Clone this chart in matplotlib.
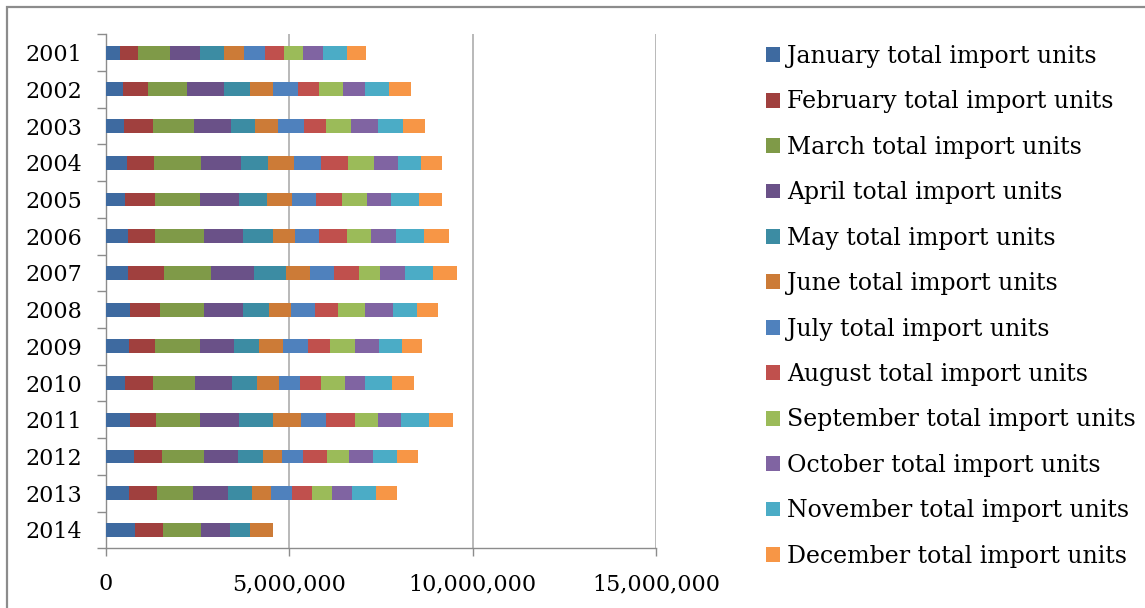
import matplotlib
matplotlib.use("Agg")
import matplotlib.pyplot as plt
from matplotlib.patches import Rectangle, Patch
from matplotlib.ticker import FuncFormatter, FixedLocator
import numpy as np

plt.rcParams['font.family'] = ['DejaVu Serif']

years = ["2001", "2002", "2003", "2004", "2005", "2006", "2007",
         "2008", "2009", "2010", "2011", "2012", "2013", "2014"]

months = ["January", "February", "March", "April", "May", "June",
          "July", "August", "September", "October", "November", "December"]

jan = [390000, 460000, 490000, 560000, 520000, 590000, 590000, 660000, 630000, 520000, 660000, 770000, 630000, 790000]
feb = [470000, 680000, 780000, 750000, 820000, 750000, 990000, 810000, 710000, 760000, 710000, 750000, 750000, 760000]
mar = [890000, 1060000, 1120000, 1280000, 1230000, 1330000, 1280000, 1190000, 1230000, 1160000, 1190000, 1160000, 990000, 1050000]
apr = [810000, 1020000, 1030000, 1100000, 1060000, 1060000, 1170000, 1070000, 920000, 990000, 1060000, 920000, 950000, 790000]
may = [650000, 720000, 650000, 720000, 750000, 830000, 890000, 720000, 680000, 680000, 930000, 690000, 660000, 550000]
jun = [540000, 610000, 610000, 710000, 680000, 600000, 650000, 600000, 650000, 610000, 770000, 500000, 510000, 610000]
jul = [590000, 680000, 710000, 750000, 660000, 660000, 650000, 660000, 680000, 580000, 690000, 580000, 570000, 0]
aug = [510000, 570000, 620000, 720000, 710000, 750000, 680000, 610000, 610000, 570000, 780000, 660000, 560000, 0]
sep = [510000, 660000, 680000, 710000, 680000, 650000, 580000, 750000, 680000, 660000, 640000, 610000, 540000, 0]
oct_ = [550000, 610000, 720000, 650000, 650000, 680000, 670000, 760000, 650000, 540000, 620000, 650000, 550000, 0]
nov = [650000, 650000, 680000, 650000, 780000, 780000, 760000, 650000, 620000, 730000, 750000, 650000, 650000, 0]
dec = [540000, 610000, 600000, 550000, 610000, 680000, 670000, 570000, 570000, 600000, 650000, 570000, 570000, 0]

series = [jan, feb, mar, apr, may, jun, jul, aug, sep, oct_, nov, dec]

colors = ["#3E6AA0", "#A0403E", "#7F9A48", "#6A5188", "#3C8CA3", "#CC7B37",
          "#4F81BD", "#C0504D", "#9BBB59", "#8064A2", "#4BACC6", "#F79646"]

W, H = 1145, 608
fig = plt.figure(figsize=(W / 100, H / 100), dpi=100)
fig.patch.set_facecolor("white")

# outer chart border (only top/left visible in the reference)
fig.patches.append(Rectangle((7 / W, -0.2), 1.5, 1 - 7 / H + 0.2, transform=fig.transFigure,
                             fill=False, edgecolor="#8C8C8C", linewidth=1.6, clip_on=False))

ax = fig.add_axes([106 / W, 1 - 548.3 / H, (656 - 106) / W, (548.3 - 34.3) / H])

y = np.arange(len(years))
left = np.zeros(len(years))
for vals, c, m in zip(series, colors, months):
    v = np.array(vals, dtype=float)
    ax.barh(y, v, left=left, height=0.38, color=c, linewidth=0, label=f"{m} total import units", zorder=3)
    left += v

ax.set_xlim(0, 15000000)
ax.set_ylim(len(years) - 0.5, -0.5)

ax.set_xticks([0, 5000000, 10000000, 15000000])
ax.xaxis.set_major_formatter(FuncFormatter(lambda v, p: f"{int(v):,}"))
ax.set_yticks(y)
ax.set_yticklabels(years)
ax.yaxis.set_minor_locator(FixedLocator(np.arange(-0.5, len(years), 1.0)))

ax.tick_params(axis="y", which="major", length=0, pad=17, labelsize=16)
ax.tick_params(axis="y", which="minor", length=6.5, width=1.0, color="#8C8C8C", direction="out")
ax.tick_params(axis="x", which="major", length=6, width=1.0, color="#8C8C8C", direction="out",
               pad=12, labelsize=16)

for s in ["top", "right"]:
    ax.spines[s].set_visible(False)
for s in ["left", "bottom"]:
    ax.spines[s].set_color("#8C8C8C")
    ax.spines[s].set_linewidth(1.0)

ax.grid(axis="x", color="#A6A6A6", linewidth=1.1, zorder=0)
ax.set_axisbelow(True)

handles = [Patch(facecolor=c, edgecolor="none") for c in colors]
labels = [f"{m} total import units" for m in months]
fig.legend(handles, labels, loc="upper left", bbox_to_anchor=(766 / W, 1 - 45 / H),
           frameon=False, fontsize=17, handlelength=0.59, handleheight=0.59,
           handletextpad=0.3, labelspacing=0.95, borderpad=0, borderaxespad=0)

fig.savefig("out.png", dpi=100, facecolor="white")
